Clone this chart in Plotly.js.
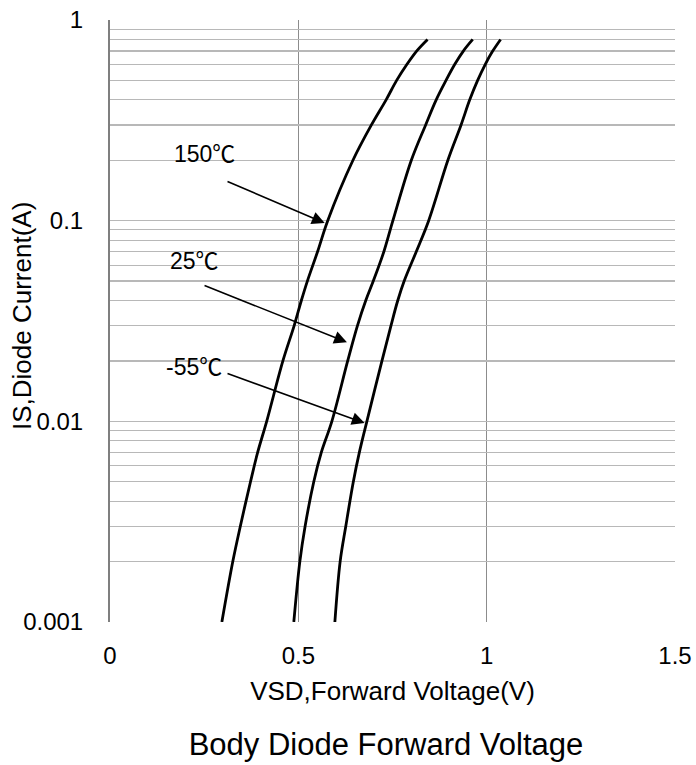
<!DOCTYPE html>
<html>
<head>
<meta charset="utf-8">
<script src="https://cdn.plot.ly/plotly-3.0.1.min.js"></script>
<style>html,body{margin:0;padding:0;background:#fff;}#chart{width:696px;height:765px;}</style>
</head>
<body>
<div id="chart"></div>
<script>
// ---- data ----
const currentA = [0.001, 0.002, 0.003, 0.005, 0.007, 0.01, 0.02, 0.03, 0.04, 0.05, 0.07, 0.1, 0.2, 0.3, 0.4, 0.5, 0.6, 0.7, 0.8];
const vsd150 = [0.297, 0.326, 0.346, 0.373, 0.392, 0.416, 0.459, 0.489, 0.508, 0.524, 0.551, 0.578, 0.645, 0.694, 0.733, 0.761, 0.788, 0.814, 0.843];
const vsd25  = [0.488, 0.504, 0.518, 0.541, 0.561, 0.589, 0.631, 0.657, 0.679, 0.699, 0.727, 0.751, 0.800, 0.838, 0.866, 0.892, 0.915, 0.938, 0.963];
const vsdM55 = [0.597, 0.611, 0.626, 0.646, 0.662, 0.682, 0.722, 0.746, 0.764, 0.781, 0.813, 0.846, 0.897, 0.932, 0.955, 0.976, 0.996, 1.016, 1.037];
const seriesNames = ['150℃', '25℃', '-55℃'];

const yTickVals = [0.001,0.002,0.003,0.004,0.005,0.006,0.007,0.008,0.009,
                   0.01,0.02,0.03,0.04,0.05,0.06,0.07,0.08,0.09,
                   0.1,0.2,0.3,0.4,0.5,0.6,0.7,0.8,0.9,1];
const yTickText = yTickVals.map(v => ([0.001,0.01,0.1,1].includes(v) ? String(v) : ''));
const xTickVals = [0, 0.5, 1, 1.5];
const xTickText = ['0', '0.5', '1', '1.5'];

// ---- drawing ----
const FONT = '"Liberation Sans", Arial, "Noto Sans CJK SC", sans-serif';
const seriesX = [vsd150, vsd25, vsdM55];
const traces = seriesX.map((xs, i) => ({
  x: xs, y: currentA, type: 'scatter', mode: 'lines', name: seriesNames[i],
  line: {color: '#000', width: 2.8, shape: 'spline', smoothing: 1},
  showlegend: false, hoverinfo: 'skip'
}));

// label placement (layout only)
const labelPos = [
  {tx: 0.251, ty: 0.215, hx: 0.570, hy: 0.0973, ax: 0.308, ay: 0.158},
  {tx: 0.223, ty: 0.0630, hx: 0.629, hy: 0.0248, ax: 0.247, ay: 0.0478},
  {tx: 0.224, ty: 0.0187, hx: 0.676, hy: 0.00981, ax: 0.308, ay: 0.0174}
];
const annotations = [];
labelPos.forEach((p, i) => {
  annotations.push({
    x: p.tx, y: Math.log10(p.ty), xref: 'x', yref: 'y', text: seriesNames[i],
    showarrow: false, xanchor: 'center', yanchor: 'middle',
    font: {family: FONT, size: 23, color: '#000'}
  });
  annotations.push({
    x: p.hx, y: Math.log10(p.hy), xref: 'x', yref: 'y',
    ax: p.ax, ay: Math.log10(p.ay), axref: 'x', ayref: 'y',
    text: '', showarrow: true, arrowhead: 2, arrowsize: 1.6, arrowwidth: 1.6,
    arrowcolor: '#000', standoff: 0, startstandoff: 0
  });
});
annotations.push({
  x: (22 - 110) / 565, y: (622 - 316) / 602, xref: 'paper', yref: 'paper', text: 'IS,Diode Current(A)',
  showarrow: false, textangle: -90, xanchor: 'center', yanchor: 'middle',
  font: {family: FONT, size: 26, color: '#000'}
});

const layout = {
  width: 696, height: 765,
  margin: {l: 110, r: 21, t: 20, b: 143},
  paper_bgcolor: '#fff', plot_bgcolor: '#fff',
  font: {family: FONT, size: 24, color: '#000'},
  title: {text: 'Body Diode Forward Voltage', font: {family: FONT, size: 31, color: '#000'},
          x: 386 / 696, xanchor: 'center', xref: 'container', y: 1 - 744 / 765, yanchor: 'middle', yref: 'container'},
  xaxis: {
    range: [0, 1.5], tickvals: xTickVals, ticktext: xTickText, ticks: '',
    showgrid: true, gridcolor: '#8c8c8c', gridwidth: 1.3, zeroline: false, showline: false,
    tickfont: {family: FONT, size: 24, color: '#000'},
    ticklabelstandoff: 17,
    title: {text: 'VSD,Forward Voltage(V)', font: {family: FONT, size: 26, color: '#000'}, standoff: 13},
    fixedrange: true
  },
  yaxis: {
    type: 'log', range: [-3, 0], tickvals: yTickVals, ticktext: yTickText, ticks: '',
    showgrid: true, gridcolor: '#b8b8b8', gridwidth: 1.2, zeroline: false,
    showline: true, linecolor: '#7f7f7f', linewidth: 2,
    tickfont: {family: FONT, size: 24, color: '#000'},
    ticklabelstandoff: 20,
    fixedrange: true
  },
  annotations: annotations
};

Plotly.newPlot('chart', traces, layout, {staticPlot: true, displayModeBar: false});
</script>
</body>
</html>
